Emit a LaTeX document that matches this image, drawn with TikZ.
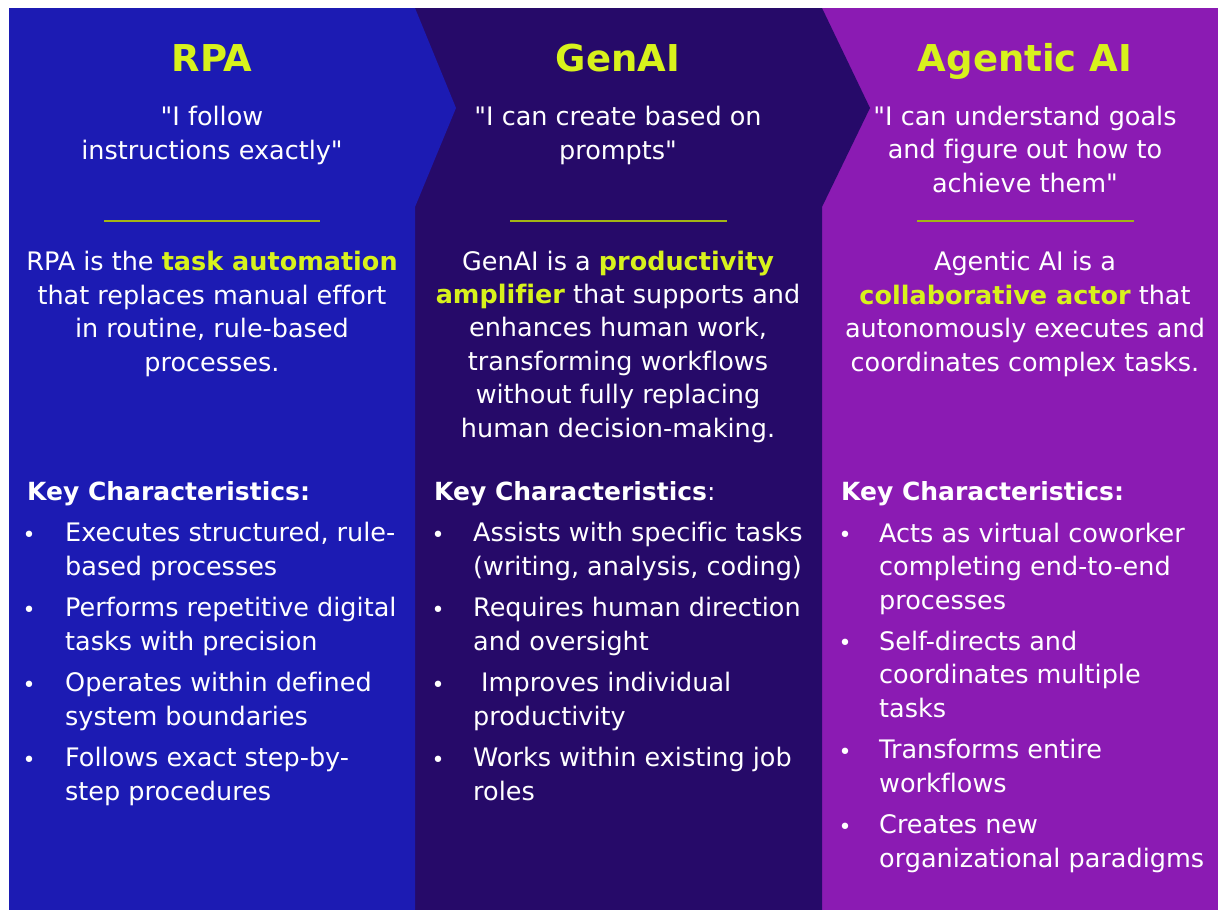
\documentclass[tikz,border=0pt]{standalone}
\usepackage{fontspec}
\setmainfont{DejaVu Sans}[Ligatures={TeXOff,NoCommon}]
\usepackage{tikz}

\definecolor{rpablue}{HTML}{1C1BB3}
\definecolor{genaidark}{HTML}{260A69}
\definecolor{agenticpurple}{HTML}{8B1BB3}
\definecolor{titlelime}{HTML}{D8F21C}

\tikzset{
  coltitle/.style={font=\fontsize{37}{40}\selectfont\bfseries, text=titlelime, anchor=base, inner sep=0pt},
  colquote/.style={font=\fontsize{25.5}{33.4}\selectfont, text=white, align=center, anchor=base, inner sep=0pt},
  coltext/.style={font=\fontsize{25.5}{33.4}\selectfont, text=white, align=center, anchor=base, inner sep=0pt},
  keyhead/.style={font=\fontsize{25}{33.4}\selectfont, text=white, anchor=base west, inner sep=0pt},
  itemtext/.style={font=\fontsize{25.5}{33.4}\selectfont, text=white, align=left, anchor=base west, inner sep=0pt},
  itemdot/.style={font=\fontsize{22}{24}\selectfont, text=white, anchor=base, inner sep=0pt},
  seprule/.style={draw=titlelime!75!black, line width=2pt},
}
\newcommand{\hl}[1]{\textbf{\color{titlelime}#1}}

\begin{document}
\begin{tikzpicture}[x=1pt, y=-1pt]
    \useasboundingbox (0,0) rectangle (1218,910);
    \def\panelC{(822,8) -- (1218,8) -- (1218,910) -- (822,910) -- cycle}
    \def\panelB{(415,8) -- (822,8) -- (870,108) -- (822,207) -- (822,910) -- (415,910) -- cycle}
    \def\panelA{(9,8) -- (415,8) -- (456,108) -- (415,207) -- (415,910) -- (9,910) -- cycle}
    \fill [agenticpurple] \panelC;
    \fill [genaidark] \panelB;
    \fill [rpablue] \panelA;

    % RPA (multi-line nodes sit on their last line)
    \node [coltitle] (rpaTitle) at (212, 71) {RPA};
    \node [colquote] (rpaQuote) at (212, 159) {"I follow\\instructions exactly"};
    \draw [seprule] (104, 221) -- (320, 221);
    \node [coltext] (rpaText) at (212, 371) {RPA is the \hl{task automation}\\that replaces manual effort\\in routine, rule-based\\processes.};
    \node [keyhead] (rpaKey) at (27, 500) {\textbf{Key Characteristics:}};
    \node [itemdot] (rpaDotA) at (29, 542) {•};
    \node [itemtext] (rpaItemA) at (65, 575) {Executes structured, rule-\\based processes};
    \node [itemdot] (rpaDotB) at (29, 617) {•};
    \node [itemtext] (rpaItemB) at (65, 650) {Performs repetitive digital\\tasks with precision};
    \node [itemdot] (rpaDotC) at (29, 692) {•};
    \node [itemtext] (rpaItemC) at (65, 725) {Operates within defined\\system boundaries};
    \node [itemdot] (rpaDotD) at (29, 767) {•};
    \node [itemtext] (rpaItemD) at (65, 800) {Follows exact step-by-\\step procedures};

    % GenAI
    \node [coltitle] (genTitle) at (618, 71) {GenAI};
    \node [colquote] (genQuote) at (618, 159) {"I can create based on\\prompts"};
    \draw [seprule] (510, 221) -- (727, 221);
    \node [coltext] (genText) at (618, 437) {GenAI is a \hl{productivity}\\\hl{amplifier} that supports and\\enhances human work,\\transforming workflows\\without fully replacing\\human decision-making.};
    \node [keyhead] (genKey) at (434, 500) {\textbf{Key Characteristics}:};
    \node [itemdot] (genDotA) at (438, 542) {•};
    \node [itemtext] (genItemA) at (473, 575) {Assists with specific tasks\\(writing, analysis, coding)};
    \node [itemdot] (genDotB) at (438, 617) {•};
    \node [itemtext] (genItemB) at (473, 650) {Requires human direction\\and oversight};
    \node [itemdot] (genDotC) at (438, 692) {•};
    \node [itemtext] (genItemC) at (473, 725) {\hspace{8pt}Improves individual\\productivity};
    \node [itemdot] (genDotD) at (438, 767) {•};
    \node [itemtext] (genItemD) at (473, 800) {Works within existing job\\roles};

    % Agentic AI
    \node [coltitle] (agtTitle) at (1025, 71) {Agentic AI};
    \node [colquote] (agtQuote) at (1025, 192) {"I can understand goals\\and figure out how to\\achieve them"};
    \draw [seprule] (917, 221) -- (1134, 221);
    \node [coltext] (agtText) at (1025, 371) {Agentic AI is a\\\hl{collaborative actor} that\\autonomously executes and\\coordinates complex tasks.};
    \node [keyhead] (agtKey) at (841, 500) {\textbf{Key Characteristics:}};
    \node [itemdot] (agtDotA) at (845, 542) {•};
    \node [itemtext] (agtItemA) at (879, 609) {Acts as virtual coworker\\completing end-to-end\\processes};
    \node [itemdot] (agtDotB) at (845, 650) {•};
    \node [itemtext] (agtItemB) at (879, 717) {Self-directs and\\coordinates multiple\\tasks};
    \node [itemdot] (agtDotC) at (845, 759) {•};
    \node [itemtext] (agtItemC) at (879, 792) {Transforms entire\\workflows};
    \node [itemdot] (agtDotD) at (845, 834) {•};
    \node [itemtext] (agtItemD) at (879, 867) {Creates new\\organizational paradigms};
\end{tikzpicture}
\end{document}
